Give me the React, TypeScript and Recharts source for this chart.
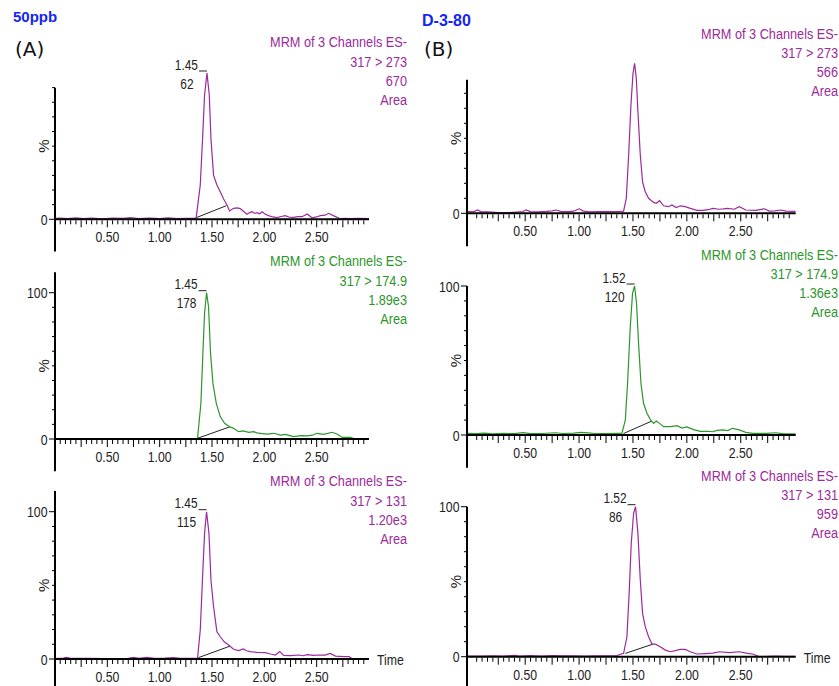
import React from 'react';
import { LineChart, Line, XAxis, YAxis, ReferenceLine } from 'recharts';

const W = 839;
const H = 686;
const PURPLE = '#9c2a9c';
const GREEN = '#2c962c';
const BLUE = '#1426f0';
const FONT = "'Liberation Sans', Arial, sans-serif";
const XH = 20; // x axis box height
const YW = 40; // y axis box width

// retention time axis (min)
const timeLabels = ['0.50', '1.00', '1.50', '2.00', '2.50'];
const timeTicks = Array.from({ length: 59 }, (_, i) => (i + 1) / 20);

// traces: [time (min), % of base peak]
const trace50ppb273 = [
  [0, 0.6], [0.05, 0.9], [0.12, 0.5], [0.2, 1.0], [0.27, 0.4], [0.35, 0.8], [0.45, 0.3], [0.55, 0.9],
  [0.65, 0.6], [0.72, 1.1], [0.8, 0.5], [0.9, 0.8], [1.0, 0.4], [1.08, 1.0], [1.17, 0.5], [1.25, 0.7],
  [1.33, 0.6], [1.349, 1.1], [1.388, 23.4], [1.41, 55], [1.429, 85], [1.452, 100], [1.474, 85], [1.49, 55],
  [1.515, 30], [1.547, 23.4], [1.579, 18.9], [1.611, 13.9], [1.643, 9.8], [1.668, 5.7], [1.706, 7.5],
  [1.74, 7.8], [1.77, 7.3], [1.8, 5.5], [1.834, 3.4], [1.86, 4.6], [1.882, 5.2], [1.91, 4.0], [1.93, 4.5],
  [1.955, 3.8], [1.978, 5.2], [2.01, 3.5], [2.04, 2.5], [2.08, 1.6], [2.12, 1.1], [2.16, 1.9], [2.2, 2.5],
  [2.24, 1.4], [2.28, 1.3], [2.32, 1.8], [2.36, 1.8], [2.41, 3.6], [2.455, 1.0], [2.5, 1.6], [2.535, 2.5],
  [2.58, 2.8], [2.615, 4.1], [2.66, 2.5], [2.72, 0.5], [2.78, 0.7], [2.82, 0.4], [2.9, 0.7], [3.0, 0.5],
];
const trace50ppb1749 = [
  [0, 0.2], [0.2, 0.3], [0.5, 0.2], [0.8, 0.3], [1.1, 0.2], [1.3, 0.3], [1.362, 0.5], [1.394, 24.4],
  [1.413, 58.6], [1.429, 86], [1.448, 100], [1.467, 90.4], [1.486, 58.6], [1.509, 38], [1.541, 24.4],
  [1.579, 15.3], [1.62, 10.7], [1.668, 8.4], [1.706, 7.3], [1.754, 5.0], [1.8, 5.5], [1.85, 4.6],
  [1.898, 5.0], [1.93, 4.2], [1.962, 3.9], [2.026, 3.4], [2.09, 3.9], [2.153, 2.7], [2.2, 3.2], [2.28, 1.6],
  [2.35, 2.3], [2.41, 2.1], [2.46, 2.6], [2.504, 3.9], [2.568, 3.2], [2.647, 4.6], [2.695, 3.4],
  [2.743, 1.1], [2.8, 1.2], [2.823, 1.1], [2.86, 0.2], [3.0, 0.2],
];
const trace50ppb131 = [
  [0, 0.3], [0.08, 0.6], [0.11, 1.1], [0.15, 0.4], [0.3, 0.5], [0.5, 0.3], [0.7, 0.5], [0.75, 1.1],
  [0.8, 0.4], [0.88, 1.1], [0.95, 0.4], [1.05, 0.6], [1.13, 1.0], [1.2, 0.4], [1.3, 0.5], [1.362, 0.5],
  [1.388, 19.7], [1.41, 55.9], [1.429, 85.3], [1.448, 100], [1.471, 85.3], [1.49, 53.6], [1.515, 35.5],
  [1.547, 18.5], [1.579, 15.1], [1.617, 11.7], [1.659, 9.5], [1.706, 6.6], [1.754, 5.7], [1.8, 6.8],
  [1.83, 5.6], [1.866, 5.0], [1.93, 4.5], [2.01, 4.3], [2.057, 3.4], [2.105, 2.7], [2.147, 5.0],
  [2.185, 2.5], [2.25, 2.3], [2.33, 2.7], [2.37, 2.2], [2.41, 2.9], [2.47, 2.4], [2.52, 2.7], [2.58, 2.6],
  [2.63, 3.8], [2.68, 2.0], [2.76, 1.6], [2.81, 1.6], [2.84, 0.2], [3.0, 0.2],
];
const traceD380273 = [
  [-0.03, 1.1], [0.03, 1.3], [0.058, 2.2], [0.09, 1.0], [0.15, 1.0], [0.25, 0.4], [0.35, 0.4], [0.42, 0.8],
  [0.48, 1.2], [0.507, 2.2], [0.55, 1.1], [0.62, 1.0], [0.7, 1.3], [0.75, 1.6], [0.786, 2.2], [0.83, 1.3],
  [0.9, 1.1], [0.95, 1.4], [0.98, 2.4], [1.002, 3.0], [1.04, 1.5], [1.1, 1.0], [1.2, 1.1], [1.3, 1.1],
  [1.38, 1.2], [1.413, 1.4], [1.438, 10], [1.46, 38.9], [1.481, 72], [1.5, 93], [1.515, 100], [1.531, 90],
  [1.546, 67.7], [1.568, 38.9], [1.589, 21], [1.614, 14.4], [1.645, 10], [1.691, 7.3], [1.716, 6.7],
  [1.747, 8.4], [1.784, 5], [1.83, 4.4], [1.861, 5.5], [1.902, 3.8], [1.939, 5], [1.985, 4.4], [2.032, 3.3],
  [2.094, 2.0], [2.15, 2.0], [2.2, 2.4], [2.238, 3.3], [2.3, 2.7], [2.34, 2.9], [2.378, 3.3], [2.44, 2.7],
  [2.486, 4.4], [2.547, 2.2], [2.64, 2.0], [2.718, 3.0], [2.765, 1.5], [2.82, 1.6], [2.873, 2.2],
  [2.92, 1.5], [3.01, 1.3],
];
const traceD3801749 = [
  [-0.03, 1.1], [0.05, 0.9], [0.12, 1.3], [0.2, 0.8], [0.3, 1.1], [0.4, 0.9], [0.48, 1.6], [0.55, 0.9],
  [0.65, 1.0], [0.78, 1.5], [0.85, 1.0], [0.95, 1.2], [1.02, 1.8], [1.08, 1.4], [1.15, 1.0], [1.25, 1.0],
  [1.35, 1.1], [1.398, 1.2], [1.429, 10], [1.45, 34.7], [1.475, 72.7], [1.496, 95], [1.515, 100],
  [1.533, 88.4], [1.552, 61.5], [1.574, 34.7], [1.598, 21.3], [1.63, 14.6], [1.66, 10.5], [1.691, 7.8],
  [1.716, 9.4], [1.747, 7.8], [1.784, 5.6], [1.846, 5.6], [1.908, 6.3], [1.955, 4.7], [2.0, 5.4],
  [2.063, 3.6], [2.125, 2.5], [2.2, 2.5], [2.238, 2.2], [2.28, 3.1], [2.33, 3.4], [2.38, 3.0], [2.424, 4.5],
  [2.486, 3.4], [2.547, 1.8], [2.61, 1.1], [2.734, 1.1], [2.827, 1.5], [2.9, 0.7], [3.01, 0.7],
];
const traceD380131 = [
  [-0.03, 0.4], [0.1, 0.4], [0.2, 0.6], [0.3, 0.4], [0.4, 0.9], [0.45, 0.4], [0.55, 0.8], [0.65, 0.4],
  [0.75, 0.8], [0.85, 0.5], [0.95, 0.6], [1.05, 0.4], [1.15, 0.5], [1.25, 0.6], [1.35, 0.8], [1.413, 2.2],
  [1.444, 13.3], [1.466, 44.4], [1.484, 75.6], [1.506, 95.6], [1.524, 100], [1.546, 82.2], [1.568, 51.1],
  [1.589, 28.9], [1.614, 20], [1.645, 13.3], [1.677, 8.4], [1.707, 8.4], [1.753, 6.7], [1.8, 4.4],
  [1.846, 3.3], [1.892, 4.0], [1.94, 4.9], [1.985, 4.9], [2.032, 3.3], [2.094, 1.8], [2.17, 2.1],
  [2.24, 2.4], [2.3, 3.3], [2.394, 2.7], [2.486, 3.3], [2.563, 2.2], [2.61, 1.8], [2.672, 0.1],
  [2.75, 0.2], [2.827, 0.4], [2.9, 0.2], [3.01, 0.2],
];

// integration baselines [start, end]
const base50ppb273 = [[1.349, 1.1], [1.637, 9.3]];
const base50ppb1749 = [[1.362, 0.5], [1.674, 8.4]];
const base50ppb131 = [[1.37, 0.9], [1.674, 8.8]];
const baseD3801749 = [[1.413, 1.0], [1.676, 9.4]];
const baseD380131 = [[1.429, 2.2], [1.686, 8.4]];

// header / peak annotation text
const header50ppb273 = ['MRM of 3 Channels ES-', '317 > 273', '670', 'Area'];
const header50ppb1749 = ['MRM of 3 Channels ES-', '317 > 174.9', '1.89e3', 'Area'];
const header50ppb131 = ['MRM of 3 Channels ES-', '317 > 131', '1.20e3', 'Area'];
const headerD380273 = ['MRM of 3 Channels ES-', '317 > 273', '566', 'Area'];
const headerD3801749 = ['MRM of 3 Channels ES-', '317 > 174.9', '1.36e3', 'Area'];
const headerD380131 = ['MRM of 3 Channels ES-', '317 > 131', '959', 'Area'];

const range = (n: number) => Array.from({ length: n + 1 }, (_, i) => i * 10);

type Panel = {
  trace: number[][];
  color: string;
  base?: number[][];
  header: string[];
  peak?: string[];
  left: number; right: number; t0: number; t1: number;
  top: number; zero: number; axisTop: number;
  yTicks: number[]; show100: boolean; time?: boolean;
  hx: number; hy: number; hs: number;
};

const colA = { left: 55, right: 369, t0: 0, t1: 3.0, hx: 407 };
const colB = { left: 467, right: 795.7, t0: -0.04, t1: 3.01, hx: 838 };

const panels: Panel[] = [
  { ...colA, trace: trace50ppb273, color: PURPLE, base: base50ppb273, header: header50ppb273, peak: ['1.45', '62'],
    top: 73, zero: 219.3, axisTop: 90, yTicks: range(9), show100: false, hy: 47.3, hs: 19.2 },
  { ...colA, trace: trace50ppb1749, color: GREEN, base: base50ppb1749, header: header50ppb1749, peak: ['1.45', '178'],
    top: 292.7, zero: 439, axisTop: 114, yTicks: range(10), show100: true, hy: 266.3, hs: 19.2 },
  { ...colA, trace: trace50ppb131, color: PURPLE, base: base50ppb131, header: header50ppb131, peak: ['1.45', '115'],
    top: 511.7, zero: 659, axisTop: 114, yTicks: range(10), show100: true, hy: 486.3, hs: 19.2, time: true },
  { ...colB, trace: traceD380273, color: PURPLE, header: headerD380273,
    top: 63.3, zero: 213.3, axisTop: 89, yTicks: range(8), show100: false, hy: 39, hs: 19 },
  { ...colB, trace: traceD3801749, color: GREEN, base: baseD3801749, header: headerD3801749, peak: ['1.52', '120'],
    top: 286, zero: 435, axisTop: 100, yTicks: range(10), show100: true, hy: 259.6, hs: 19 },
  { ...colB, trace: traceD380131, color: PURPLE, base: baseD380131, header: headerD380131, peak: ['1.52', '86'],
    top: 506.7, zero: 656.7, axisTop: 100, yTicks: range(10), show100: true, hy: 480.6, hs: 19, time: true },
];

function NText({ x, y, anchor = 'start', size = 15, fill = '#222', children }: any) {
  return (
    <text transform={`translate(${x},${y}) scale(0.82,1)`} textAnchor={anchor}
      fontFamily={FONT} fontSize={size} fill={fill}>{children}</text>
  );
}

function XTick({ x, y, payload }: any) {
  const i = Math.round(payload.value * 20);
  const label = payload.value.toFixed(2);
  return (
    <g>
      <line x1={x} x2={x} y1={y + 1} y2={y + (i % 5 === 0 ? 8 : 5)} stroke="#000" strokeWidth={1} />
      {timeLabels.includes(label) && <NText x={x} y={y + 23} anchor="middle">{label}</NText>}
    </g>
  );
}

function YTick({ x, y, payload, show100 }: any) {
  const v = payload.value;
  const major = v === 0 || v === 100;
  return (
    <g>
      <line x1={x - (major ? 6 : 3)} x2={x} y1={y} y2={y} stroke="#000" strokeWidth={1} />
      {v === 0 && <NText x={x - 7.5} y={y + 5.5} anchor="end">0</NText>}
      {v === 100 && show100 && <NText x={x - 7.5} y={y + 5.5} anchor="end">100</NText>}
    </g>
  );
}

function Trace({ p }: { p: Panel }) {
  const data = p.trace.map(([t, v]) => ({ t, v }));
  return (
    <div style={{ position: 'absolute', left: 0, top: 0 }}>
      <LineChart width={W} height={H} data={data}
        margin={{ top: p.top, bottom: H - p.zero - XH, left: p.left - YW, right: W - p.right }}>
        <XAxis dataKey="t" type="number" domain={[p.t0, p.t1]} allowDataOverflow ticks={timeTicks} interval={0}
          height={XH} tickSize={0} tickMargin={0} tickLine={false}
          axisLine={{ stroke: '#000', strokeWidth: 2 }} tick={(props: any) => <XTick {...props} />} />
        <YAxis type="number" domain={[0, 100]} ticks={p.yTicks} interval={0} width={YW} tickSize={0} tickMargin={0}
          tickLine={false} axisLine={false} tick={(props: any) => <YTick {...props} show100={p.show100} />} />
        <ReferenceLine segment={[{ x: p.t0, y: -22 }, { x: p.t0, y: p.axisTop }]} stroke="#000" strokeWidth={2}
          ifOverflow="visible" />
        {p.base && (
          <ReferenceLine segment={[{ x: p.base[0][0], y: p.base[0][1] }, { x: p.base[1][0], y: p.base[1][1] }]}
            stroke="#222" strokeWidth={1} ifOverflow="visible" />
        )}
        <Line type="linear" dataKey="v" stroke={p.color} strokeWidth={1.2} dot={false} isAnimationActive={false} />
      </LineChart>
    </div>
  );
}

function Annotations({ p }: { p: Panel }) {
  const sx = (t: number) => p.left + ((t - p.t0) / (p.t1 - p.t0)) * (p.right - p.left);
  const sy = (v: number) => p.zero - (v / 100) * (p.zero - p.top);
  const apex = p.trace.reduce((a, b) => (b[1] > a[1] ? b : a));
  const ax = sx(apex[0]);
  const ay = sy(apex[1]);
  return (
    <g>
      {p.header.map((line, i) => (
        <NText key={i} x={p.hx} y={p.hy + i * p.hs} anchor="end" size={15.5} fill={p.color}>{line}</NText>
      ))}
      <text transform={`translate(${p.left - 6.5},${sy(50)}) rotate(-90)`} textAnchor="middle"
        fontFamily={FONT} fontSize={15} fill="#222">%</text>
      {p.peak && (
        <g>
          <NText x={ax - 9} y={ay - 3.5} anchor="end" size={14.5}>{p.peak[0]}</NText>
          <line x1={ax - 8} x2={ax} y1={ay - 2} y2={ay - 2} stroke="#222" strokeWidth={1} />
          <NText x={ax - 20} y={ay + 15.5} anchor="middle" size={14.5}>{p.peak[1]}</NText>
        </g>
      )}
      {p.time && <NText x={p.right + 8} y={p.zero + 6} size={15}>Time</NText>}
    </g>
  );
}

export default function App() {
  return (
    <div style={{ position: 'absolute', left: 0, top: 0, width: W, height: H, background: '#fff', overflow: 'hidden' }}>
      {panels.map((p, i) => <Trace key={i} p={p} />)}
      <svg width={W} height={H} style={{ position: 'absolute', left: 0, top: 0, pointerEvents: 'none' }}>
        <text x={13} y={22} fontFamily={FONT} fontWeight="bold" fontSize={15} fill={BLUE}>50ppb</text>
        <text x={422} y={26} fontFamily={FONT} fontWeight="bold" fontSize={16} fill={BLUE}>D-3-80</text>
        <text x={15} y={56} fontFamily="'DejaVu Sans', sans-serif" fontSize={20} fill="#111">(A)</text>
        <text x={424} y={56} fontFamily="'DejaVu Sans', sans-serif" fontSize={20} fill="#111">(B)</text>
        {panels.map((p, i) => <Annotations key={i} p={p} />)}
      </svg>
    </div>
  );
}
